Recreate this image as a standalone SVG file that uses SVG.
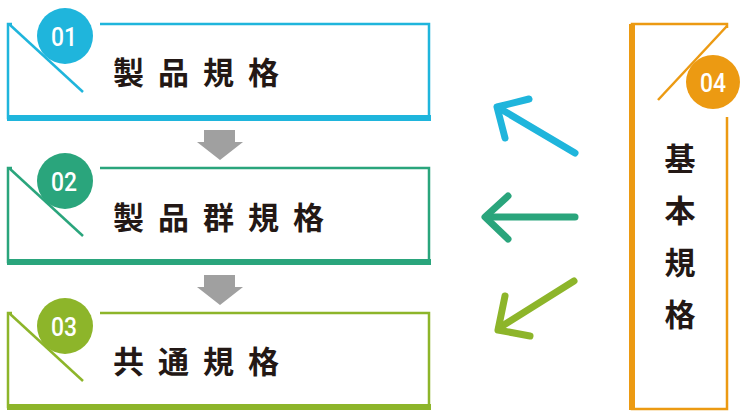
<svg xmlns="http://www.w3.org/2000/svg" width="750" height="418" viewBox="0 0 750 418">
<style>
.t{font-family:"Noto Sans CJK JP","Noto Sans CJK SC",sans-serif;font-weight:bold;font-size:31px;fill:#231815;letter-spacing:14px}
.n{font-family:"Roboto","Liberation Sans",sans-serif;font-weight:500;font-size:25px;fill:#fff;text-anchor:middle}
.b{fill:none;stroke-width:2.5}
.a{fill:none;stroke-width:7;stroke-linecap:round;stroke-linejoin:round}
</style>
<rect width="750" height="418" fill="#fff"/>
<g id="n1">
<path class="b" stroke="#1fb5dc" d="M100 24H429V118H8V24H12"/>
<rect x="7" y="115" width="424" height="6" fill="#1fb5dc"/>
<line x1="9" y1="24" x2="83" y2="92" stroke="#1fb5dc" stroke-width="2.5"/>
<circle cx="65" cy="36" r="28" fill="#1fb5dc"/>
<text class="n" x="64" y="46" textLength="26" lengthAdjust="spacingAndGlyphs">01</text>
<text class="t" x="113" y="84">製品規格</text>
</g>
<g id="n2">
<path class="b" stroke="#2aa57c" d="M100 168H429V262H8V168H12"/>
<rect x="7" y="259" width="424" height="6" fill="#2aa57c"/>
<line x1="9" y1="168" x2="83" y2="236" stroke="#2aa57c" stroke-width="2.5"/>
<circle cx="65" cy="181" r="28" fill="#2aa57c"/>
<text class="n" x="64" y="191" textLength="26" lengthAdjust="spacingAndGlyphs">02</text>
<text class="t" x="113" y="229">製品群規格</text>
</g>
<g id="n3">
<path class="b" stroke="#8db52a" d="M100 313H429V407H8V313H12"/>
<rect x="7" y="404" width="424" height="6" fill="#8db52a"/>
<line x1="9" y1="313" x2="83" y2="381" stroke="#8db52a" stroke-width="2.5"/>
<circle cx="65" cy="326" r="28" fill="#8db52a"/>
<text class="n" x="64" y="336" textLength="26" lengthAdjust="spacingAndGlyphs">03</text>
<text class="t" x="113" y="373">共通規格</text>
</g>
<g id="n4">
<path class="b" stroke="#ec9a12" d="M727 117V409H632V24H727V28"/>
<rect x="629" y="24" width="6" height="386" fill="#ec9a12"/>
<line x1="727" y1="26" x2="658" y2="100" stroke="#ec9a12" stroke-width="2.5"/>
<circle cx="713" cy="82" r="27" fill="#ec9a12"/>
<text class="n" x="713" y="92" textLength="26" lengthAdjust="spacingAndGlyphs">04</text>
<text class="t" x="680" y="170" text-anchor="middle" style="letter-spacing:0">基</text>
<text class="t" x="680" y="222" text-anchor="middle" style="letter-spacing:0">本</text>
<text class="t" x="680" y="274" text-anchor="middle" style="letter-spacing:0">規</text>
<text class="t" x="680" y="326" text-anchor="middle" style="letter-spacing:0">格</text>
</g>
<g id="connectors">
<path fill="#a0a0a0" d="M204 130H235V142H243L220 160L197 142H204Z"/>
<path fill="#a0a0a0" d="M204 275H235V287H243L220 305L197 287H204Z"/>
<g class="a" stroke="#1fb5dc"><path d="M575 153L499 108"/><path d="M529 99L497 107L505 138"/></g>
<g class="a" stroke="#2aa57c"><path d="M575 217H487"/><path d="M508 196L485 217L508 239"/></g>
<g class="a" stroke="#8db52a"><path d="M574 281L499 328"/><path d="M505 296L498 330L530 336"/></g>
</g>
</svg>
